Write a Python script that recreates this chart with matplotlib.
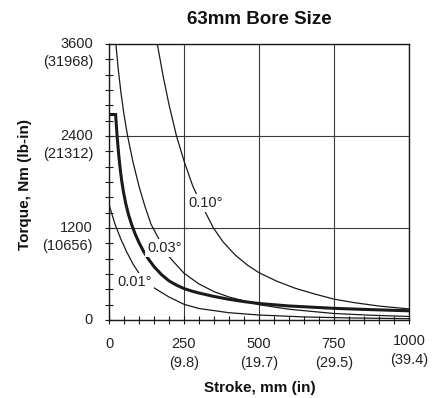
import matplotlib
matplotlib.use('Agg')
import matplotlib.pyplot as plt
from matplotlib.ticker import MultipleLocator

plt.rcParams['font.family'] = ['Liberation Sans', 'DejaVu Sans']

# ---------------- data ----------------
title = "63mm Bore Size"
xlabel = "Stroke, mm (in)"
ylabel = "Torque, Nm (lb-in)"

x_ticks = [0, 250, 500, 750, 1000]
x_tick_inch = ["", "(9.8)", "(19.7)", "(29.5)", "(39.4)"]
y_ticks = [0, 1200, 2400, 3600]
y_tick_lbin = ["", "(10656)", "(21312)", "(31968)"]

# maximum allowable torque (thick curve)
max_stroke = [0, 22, 27, 32, 37, 42, 48, 56, 65, 75, 87, 100, 115, 130, 150,
              175, 200, 225, 250, 275, 300, 350, 400, 450, 500, 600, 750, 875,
              1000]
max_torque = [2680, 2680, 2400, 2170, 1980, 1825, 1675, 1515, 1375, 1250, 1124,
              1010, 897, 803, 697, 592, 510, 455, 410, 378, 352, 307, 270, 240,
              215, 183, 152, 135, 120]

# deflection-angle curves
defl_001_stroke = [2, 20, 40, 60, 80, 100, 125, 150, 200, 250, 300, 400, 500,
                   650, 800, 1000]
defl_001_torque = [1480, 1250, 1050, 880, 730, 610, 500, 420, 300, 205, 150, 95,
                   65, 40, 27, 17]

defl_003_stroke = [23, 30, 40, 50, 62, 80, 100, 120, 140, 167, 200, 250, 300,
                   350, 400, 500, 600, 750, 875, 1000]
defl_003_torque = [3600, 3300, 2960, 2680, 2400, 2060, 1744, 1480, 1250, 1050,
                   826, 610, 470, 370, 300, 200, 140, 85, 62, 46]

defl_010_stroke = [161, 180, 200, 225, 250, 279, 300, 322, 348, 380, 420, 460,
                   500, 560, 620, 680, 750, 820, 900, 1000]
defl_010_torque = [3600, 3190, 2810, 2400, 2074, 1750, 1570, 1400, 1200, 1020,
                   850, 720, 617, 505, 415, 345, 272, 225, 182, 145]

defl_labels = ["0.01°", "0.03°", "0.10°"]

# ---------------- figure ----------------
W, H = 441, 398
fig = plt.figure(figsize=(W / 100, H / 100), dpi=100)
ax = fig.add_axes([109 / W, 78 / H, 300 / W, 276 / H])
ax.set_xlim(0, 1000)
ax.set_ylim(0, 3600)

line_col = '#1a1a1a'
ax.plot(defl_001_stroke, defl_001_torque, color=line_col, lw=0.9, zorder=2)
ax.plot(defl_003_stroke, defl_003_torque, color=line_col, lw=0.9, zorder=2)
ax.plot(defl_010_stroke, defl_010_torque, color=line_col, lw=0.9, zorder=2)
ax.plot(max_stroke, max_torque, color=line_col, lw=2.2, zorder=2.5,
        solid_joinstyle='miter')

# curve labels (white box breaks the line like the original)
label_pos = [(87, 496), (184, 939), (322, 1522)]
for lab, (sx, ty) in zip(defl_labels, label_pos):
    ax.text(sx, ty, lab, ha='center', va='center', fontsize=10.5, color='#222222',
            bbox=dict(facecolor='white', edgecolor='none', pad=1.5), zorder=4)

# grid / ticks
ax.set_xticks(x_ticks)
ax.set_yticks(y_ticks)
ax.xaxis.set_minor_locator(MultipleLocator(50))
ax.yaxis.set_minor_locator(MultipleLocator(200))
ax.grid(True, which='major', color='#3a3a3a', lw=0.8)
ax.set_axisbelow(True)
ax.tick_params(which='both', direction='inout', length=6, width=0.8,
               labelleft=False, labelbottom=False, color='#1a1a1a')
for sp in ax.spines.values():
    sp.set_color('#1a1a1a')
    sp.set_linewidth(1.0)

fs = 10.5
txt_col = '#222222'
# y tick labels (two lines: Nm and lb-in)
for v, lb in zip(y_ticks, y_tick_lbin):
    ax.annotate(str(v), xy=(0, v), xycoords=('axes fraction', 'data'),
                xytext=(-11.5, 0), textcoords='offset points',
                ha='right', va='center', fontsize=fs, color=txt_col)
    if lb:
        ax.annotate(lb, xy=(0, v), xycoords=('axes fraction', 'data'),
                    xytext=(-11.5, -13.3), textcoords='offset points',
                    ha='right', va='center', fontsize=fs, color=txt_col)

# x tick labels
for v, lb in zip(x_ticks, x_tick_inch):
    dy1, dy2 = (-17.3, -31.3) if v != 1000 else (-15.1, -28.8)
    ax.annotate(str(v), xy=(v, 0), xycoords=('data', 'axes fraction'),
                xytext=(0, dy1), textcoords='offset points',
                ha='center', va='center', fontsize=fs, color=txt_col)
    if lb:
        ax.annotate(lb, xy=(v, 0), xycoords=('data', 'axes fraction'),
                    xytext=(0, dy2), textcoords='offset points',
                    ha='center', va='center', fontsize=fs, color=txt_col)

fig.text(259 / W, 1 - 19 / H, title, ha='center', va='center',
         fontsize=13.5, fontweight='bold', color='#111111')
fig.text(260 / W, 1 - 388 / H, xlabel, ha='center', va='center',
         fontsize=11, fontweight='bold', color='#111111')
fig.text(25.5 / W, 1 - 184 / H, ylabel, ha='center', va='center', rotation=90,
         fontsize=11, fontweight='bold', color='#111111')

fig.savefig('out.png', dpi=100)
